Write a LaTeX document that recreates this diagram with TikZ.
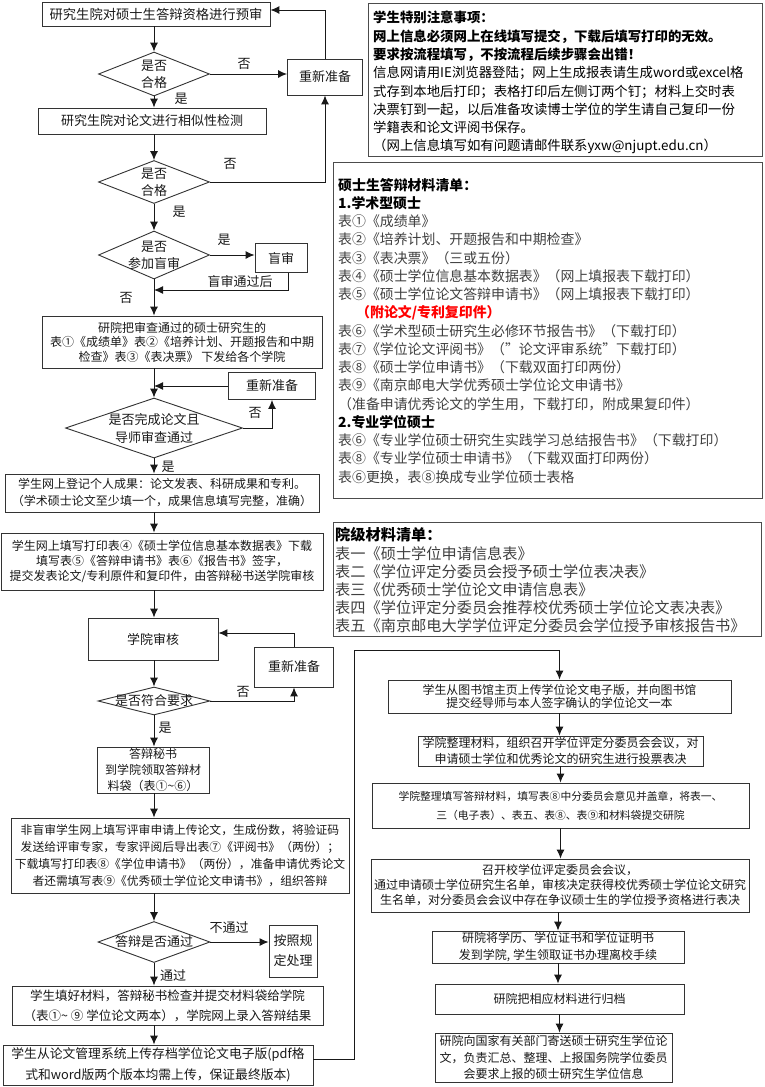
\documentclass[tikz,border=0pt]{standalone}
\usepackage{fontspec}
\setmainfont{Noto Sans CJK SC}
\usetikzlibrary{arrows.meta,shapes.geometric}
\newcommand{\myfs}[2]{\fontsize{#1}{#2}\selectfont}
\begin{document}
\begin{tikzpicture}[x=1pt,y=-1pt,
  box/.style={draw=black!80,line width=0.9pt,fill=white,inner sep=0pt,align=center,text=black!90},
  dia/.style={diamond,draw=black!80,line width=0.9pt,fill=white,inner sep=0pt},
  arr/.style={draw=black!90,line width=1pt,-{Latex[length=9pt,width=8pt]}},
  lbl/.style={inner sep=0pt,align=center,text=black!90},
  frame/.style={draw=black!70,line width=1.3pt,inner sep=0pt,anchor=north west},
  note/.style={anchor=north west,inner sep=0pt,align=left},
]
\useasboundingbox (0,0) rectangle (765,1087);
\fill[white] (0,0) rectangle (765,1087);

% ---------------- left column ----------------
\node[box,minimum width=228,minimum height=24,font=\myfs{13.3}{16}] (a) at (156,14) {研究生院对硕士生答辩资格进行预审};
\node[dia,minimum width=111,minimum height=44] (d1) at (154,74) {};
\node[lbl,font=\myfs{13}{17}] (d1t) at (d1) {是否\\合格};
\node[box,minimum width=75,minimum height=36,font=\myfs{13}{16}] (r1) at (325,77) {重新准备};
\node[box,minimum width=228,minimum height=26,font=\myfs{13}{16}] (b) at (152,121) {研究生院对论文进行相似性检测};
\node[dia,minimum width=111,minimum height=43] (d2) at (154,182) {};
\node[lbl,font=\myfs{13}{17}] (d2t) at (d2) {是否\\合格};
\node[dia,minimum width=111,minimum height=48] (d3) at (154,255) {};
\node[lbl,font=\myfs{13}{17}] (d3t) at (d3) {是否\\参加盲审};
\node[box,minimum width=52,minimum height=29,font=\myfs{13}{16}] (mb) at (281,258) {盲审};
\node[box,minimum width=280,minimum height=52,font=\myfs{12}{14.5}] (c) at (182,342) {研院把审查通过的硕士研究生的\\表①《成绩单》表②《培养计划、开题报告和中期\\检查》表③《表决票》 下发给各个学院};
\node[box,minimum width=87,minimum height=27,font=\myfs{13}{16}] (r2) at (272,386) {重新准备};
\node[dia,minimum width=177,minimum height=60] (d4) at (154,428) {};
\node[lbl,font=\myfs{13}{18}] (d4t) at (d4) {是否完成论文且\\导师审查通过};
\node[box,minimum width=314,minimum height=38,font=\myfs{12}{17}] (dd) at (162,493) {学生网上登记个人成果：论文发表、科研成果和专利。\\（学术硕士论文至少填一个，成果信息填写完整，准确）};
\node[box,minimum width=322,minimum height=57,font=\myfs{12}{15}] (e) at (162,561.5) {学生网上填写打印表④《硕士学位信息基本数据表》下载\\填写表⑤《答辩申请书》表⑥《报告书》签字，\\提交发表论文/专利原件和复印件，由答辩秘书送学院审核};
\node[box,minimum width=130,minimum height=42,font=\myfs{13}{16}] (f) at (153,639) {学院审核};
\node[box,minimum width=79,minimum height=40,font=\myfs{13}{16}] (r3) at (294,667) {重新准备};
\node[dia,minimum width=112,minimum height=28] (d5) at (154,701) {};
\node[lbl,font=\myfs{13}{16}] (d5t) at (d5) {是否符合要求};
\node[box,minimum width=112,minimum height=46,font=\myfs{12}{16}] (g) at (153,770) {答辩秘书\\到学院领取答辩材\\料袋（表①\textasciitilde⑥）};
\node[box,minimum width=338,minimum height=75,font=\myfs{11.8}{17}] (h) at (180,855.5) {非盲审学生网上填写评审申请上传论文，生成份数，将验证码\\发送给评审专家，专家评阅后导出表⑦《评阅书》（两份）；\\下载填写打印表⑧《学位申请书》（两份），准备申请优秀论文\\者还需填写表⑨《优秀硕士学位论文申请书》，组织答辩};
\node[dia,minimum width=112,minimum height=41] (d6) at (154,942) {};
\node[lbl,font=\myfs{13}{16}] (d6t) at (d6) {答辩是否通过};
\node[box,minimum width=48,minimum height=52,font=\myfs{13}{20}] (ip) at (293,951) {按照规\\定处理};
\node[box,minimum width=311,minimum height=39,font=\myfs{12.5}{20}] (j) at (167.5,1005.5) {学生填好材料，答辩秘书检查并提交材料袋给学院\\（表①\textasciitilde\ ⑨ 学位论文两本），学院网上录入答辩结果};
\node[box,minimum width=310,minimum height=40,font=\myfs{12.8}{21}] (k) at (158,1065) {学生从论文管理系统上传存档学位论文电子版(pdf格\\式和word版两个版本均需上传，保证最终版本)};

% ---------------- right flow ----------------
\node[box,minimum width=343,minimum height=33,font=\myfs{11.9}{13}] (l) at (559.5,696.5) {学生从图书馆主页上传学位论文电子版，并向图书馆\\提交经导师与本人签字确认的学位论文一本};
\node[box,minimum width=285,minimum height=30,font=\myfs{12}{16}] (m) at (560.5,751) {学院整理材料，组织召开学位评定分委员会会议，对\\申请硕士学位和优秀论文的研究生进行投票表决};
\node[box,minimum width=377,minimum height=45,font=\myfs{10.8}{19}] (n) at (560.5,805.5) {学院整理填写答辩材料，填写表⑧中分委员会意见并盖章，将表一、\\三（电子表）、表五、表⑧、表⑨和材料袋提交研院};
\node[box,minimum width=378,minimum height=53,font=\myfs{12}{15}] (o) at (560,885.5) {召开校学位评定委员会会议，\\通过申请硕士学位研究生名单，审核决定获得校优秀硕士学位论文研究\\生名单，对分委员会会议中存在争议硕士生的学位授予资格进行表决};
\node[box,minimum width=252,minimum height=32,font=\myfs{12}{17}] (p) at (558,947) {研院将学历、学位证书和学位证明书\\发到学院, 学生领取证书办理离校手续};
\node[box,minimum width=249,minimum height=30,font=\myfs{12}{16}] (q) at (559.5,999) {研院把相应材料进行归档};
\node[box,minimum width=237,minimum height=49,font=\myfs{12}{16.5}] (r) at (553.5,1057.5) {研院向国家有关部门寄送硕士研究生学位论\\文，负责汇总、整理、上报国务院学位委员\\会要求上报的硕士研究生学位信息};

% ---------------- connectors ----------------
\draw[arr] (a.south -| d1) -- (d1.north);
\draw[arr] (d1.east) -- (d1.east -| r1.west);
\draw[arr] (r1.north) |- ([yshift=4pt]a.east);
\draw[arr] (d1.south) -- (d1.south |- b.north);
\draw[arr] (b.south -| d2) -- (d2.north);
\draw[arr] (d2.east) -| (r1.south);
\draw[arr] (d2.south) -- (d3.north);
\draw[arr] (d3.east) -- (d3.east -| mb.west);
\coordinate (j1) at (154,290);
\draw[arr] ([xshift=7pt]mb.south) |- (j1);
\draw[arr] (d3.south) -- (d3.south |- c.north);
\draw[arr] (c.south -| d4) -- (d4.north);
\draw[arr] (r2.west) -- (r2.west -| d4);
\draw[arr] (d4.east) -| (r2.south);
\draw[arr] (d4.south) -- (d4.south |- dd.north);
\draw[arr] (dd.south -| d4) -- (d4 |- e.north);
\draw[arr] (e.south -| d4) -- (d4 |- f.north);
\draw[arr] (f.south -| d5) -- (d5.north);
\draw[arr] (r3.north) |- ([yshift=6pt]f.east);
\draw[arr] (d5.east) -| (r3.south);
\draw[arr] (d5.south) -- (d5.south |- g.north);
\draw[arr] (g.south -| d6) -- (d6 |- h.north);
\draw[arr] (h.south -| d6) -- (d6.north);
\draw[arr] (d6.east) -- (d6.east -| ip.west);
\draw[arr] (d6.south) -- (d6.south |- j.north);
\draw[arr] (j.south -| d6) -- (d6 |- k.north);
\coordinate (k2) at (354,650);
\draw[arr] ([yshift=6pt]k.east) -| (k2) -| (l.north);
\draw[arr] (l.south) -- (l.south |- m.north);
\draw[arr] (m.south) -- (m.south |- n.north);
\draw[arr] (n.south) -- (n.south |- o.north);
\draw[arr] (o.south -| p) -- (p.north);
\draw[arr] (p.south) -- (p.south |- q.north);
\draw[arr] (q.south) -- (q.south |- r.north);

% ---------------- labels ----------------
\node[lbl,font=\myfs{13}{16}] (t1) at (244,64) {否};
\node[lbl,font=\myfs{13}{16}] (t2) at (181,99) {是};
\node[lbl,font=\myfs{13}{16}] (t3) at (230,164) {否};
\node[lbl,font=\myfs{13}{16}] (t4) at (179,212) {是};
\node[lbl,font=\myfs{13}{16}] (t5) at (224,240) {是};
\node[lbl,font=\myfs{13}{16}] (t6) at (240,282) {盲审通过后};
\node[lbl,font=\myfs{13}{16}] (t7) at (126,298) {否};
\node[lbl,font=\myfs{13}{16}] (t8) at (255,413) {否};
\node[lbl,font=\myfs{13}{16}] (t9) at (168,467) {是};
\node[lbl,font=\myfs{13}{16}] (t10) at (243,692) {否};
\node[lbl,font=\myfs{13}{16}] (t11) at (165,728) {是};
\node[lbl,font=\myfs{13}{16}] (t12) at (229,928) {不通过};
\node[lbl,font=\myfs{13}{16}] (t13) at (173,976) {通过};

% ---------------- note boxes ----------------
\node[frame,minimum width=394,minimum height=153] (n1) at (368,3) {};
\node[note,font=\myfs{13.4}{18.3}] (n1t) at (373,11) {\textbf{学生特别注意事项：}\\
\textbf{网上信息必须网上在线填写提交，下载后填写打印的无效。}\\
\textbf{要求按流程填写，不按流程后续步骤会出错！}\\
信息网请用IE浏览器登陆；网上生成报表请生成word或excel格\\
式存到本地后打印；表格打印后左侧订两个钉；材料上交时表\\
决票钉到一起，以后准备攻读博士学位的学生请自己复印一份\\
学籍表和论文评阅书保存。\\
（网上信息填写如有问题请邮件联系yxw@njupt.edu.cn）};

\node[frame,minimum width=429,minimum height=336] (n2) at (333,162) {};
\node[note,font=\myfs{13.9}{18.25},text=black!75] (n2t) at (338,178) {\textcolor{black}{\textbf{硕士生答辩材料清单：}}\\
\textcolor{black}{\textbf{1.学术型硕士}}\\
表①《成绩单》\\
表②《培养计划、开题报告和中期检查》\\
表③《表决票》（三或五份）\\
表④《硕士学位信息基本数据表》（网上填报表下载打印）\\
表⑤《硕士学位论文答辩申请书》（网上填报表下载打印）\\
\hspace*{18pt}\textcolor{red}{\textbf{（附论文/专利复印件）}}\\
表⑥《学术型硕士研究生必修环节报告书》（下载打印）\\
表⑦《学位论文评阅书》（"论文评审系统"下载打印）\\
表⑧《硕士学位申请书》（下载双面打印两份）\\
表⑨《南京邮电大学优秀硕士学位论文申请书》\\
（准备申请优秀论文的学生用，下载打印，附成果复印件）\\
\textcolor{black}{\textbf{2.专业学位硕士}}\\
表⑥《专业学位硕士研究生实践学习总结报告书》（下载打印）\\
表⑧《专业学位硕士申请书》（下载双面打印两份）\\
表⑥更换，表⑧换成专业学位硕士表格};

\node[frame,minimum width=428,minimum height=114] (n3) at (333,522) {};
\node[note,font=\myfs{15.2}{18.2},text=black!75] (n3t) at (335,527.5) {\textcolor{black}{\textbf{院级材料清单：}}\\
表一《硕士学位申请信息表》\\
表二《学位评定分委员会授予硕士学位表决表》\\
表三《优秀硕士学位论文申请信息表》\\
表四《学位评定分委员会推荐校优秀硕士学位论文表决表》\\
表五《南京邮电大学学位评定分委员会学位授予审核报告书》};
\end{tikzpicture}
\end{document}
